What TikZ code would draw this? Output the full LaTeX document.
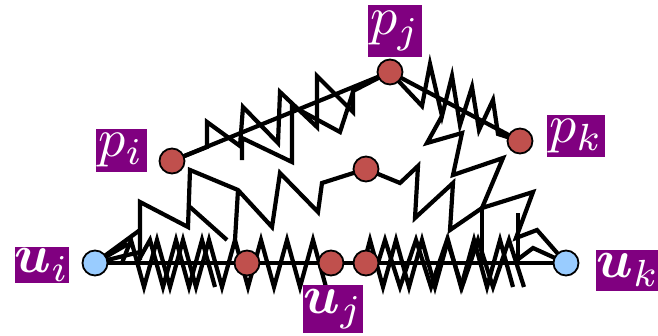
\documentclass[tikz,border=0pt]{standalone}
\usepackage{graphicx}
\usepackage{bm}
\usetikzlibrary{backgrounds}
\definecolor{lblpurple}{RGB}{128,0,128}
\definecolor{nodered}{RGB}{192,80,77}
\definecolor{nodeblue}{RGB}{153,204,255}
\newcommand{\biglbl}[1]{\scalebox{5.4}{$#1$}}
\begin{document}
\begin{tikzpicture}[x=1pt,y=-1pt,
  wire/.style={line width=4.2pt, black, line join=miter, miter limit=6},
  rdot/.style={circle, draw=black, line width=1.8pt, fill=nodered, minimum size=25pt, inner sep=0pt},
  bdot/.style={circle, draw=black, line width=1.8pt, fill=nodeblue, minimum size=25pt, inner sep=0pt},
  lbl/.style={fill=lblpurple, text=white, inner sep=0pt}]
\useasboundingbox (0,0) rectangle (658,335);

% vertices
\node[bdot] (ui) at (95,263) {};
\node[bdot] (uk) at (566,263) {};
\node[rdot] (pi) at (172,161) {};
\node[rdot] (pj) at (390,72) {};
\node[rdot] (pk) at (520,141) {};
\node[rdot] (m)  at (366,169) {};
\node[rdot] (a)  at (247,263) {};
\node[rdot] (uj) at (331,263) {};
\node[rdot] (b)  at (366,263) {};

% labels
\node[lbl, minimum width=51pt, minimum height=43pt] (lpi) at (121,150) {\biglbl{p_i}};
\node[lbl, minimum width=54pt, minimum height=52pt] (lpj) at (395,31) {\biglbl{p_j}};
\node[lbl, minimum width=58pt, minimum height=42pt] (lpk) at (576,136) {\biglbl{p_k}};
\node[lbl, minimum width=52pt, minimum height=36pt] (lui) at (42,265) {\biglbl{\bm{u}_i}};
\node[lbl, minimum width=56pt, minimum height=48pt] (luj) at (333,309) {\biglbl{\bm{u}_j}};
\node[lbl, minimum width=60pt, minimum height=41pt] (luk) at (628,270) {\biglbl{\bm{u}_k}};

\begin{scope}[on background layer]
% straight edges
\draw[wire] (pi.center) -- (pj.center) -- (pk.center);
\draw[wire] (ui.center) -- (a.center) -- (uj.center) -- (b.center) -- (uk.center);

% zigzag along p_i -- p_j
\draw[wire] (pi.center) -- (207,147) -- (207,122) -- (240,146) -- (243,107) -- (278,143)
  -- (280,92) -- (317,127) -- (317,76) -- (353,112) -- (353,91) -- (pj.center);
\draw[wire] (242,160) -- (242,138) -- (292,162) -- (292,106) -- (340,132) -- (353,92);

% zigzag along p_j -- p_k
\draw[wire] (pj.center) -- (422,106) -- (430,64) -- (442,116) -- (452,76) -- (460,125)
  -- (472,87) -- (479,130) -- (493,100) -- (498,134) -- (pk.center);
\draw[wire] (442,116) -- (427,143) -- (462,133) -- (453,175) -- (503,158) -- (482,208);

% middle chain
\draw[wire] (140,260) -- (140,202) -- (188,227) -- (190,170) -- (238,190) -- (272,227)
  -- (280,173) -- (318,212) -- (322,183) -- (m.center) -- (400,183) -- (418,166)
  -- (415,218) -- (453,183) -- (450,230) -- (482,208) -- (533,192) -- (516,238)
  -- (537,230) -- (uk.center);
\draw[wire] (190,207) -- (227,240);
\draw[wire] (238,190) -- (235,240);
\draw[wire] (482,208) -- (482,263);
\draw[wire] (518,213) -- (518,263);
\draw[wire] (517,260) -- (533,248) -- (uk.center);

% fan at u_i
\draw[wire] (ui.center) -- (140,230);
\draw[wire] (ui.center) -- (128,244);
\draw[wire] (ui.center) -- (140,252);

% bottom zigzag band
\draw[wire] (122,263) \foreach \k in {0,...,7}{ -- ({131+26*\k},240) -- ({144+26*\k},287) };
\draw[wire] (137,263) \foreach \k in {0,1,2}{ -- ({150+26*\k},240) -- ({163+26*\k},287) };
\draw[wire] (364,263) \foreach \k in {0,...,5}{ -- ({370+26*\k},240) -- ({383+26*\k},287) };
\draw[wire] (378,263) \foreach \k in {0,...,4}{ -- ({385+31*\k},240) -- ({400+31*\k},287) };
\end{scope}
\end{tikzpicture}
\end{document}
